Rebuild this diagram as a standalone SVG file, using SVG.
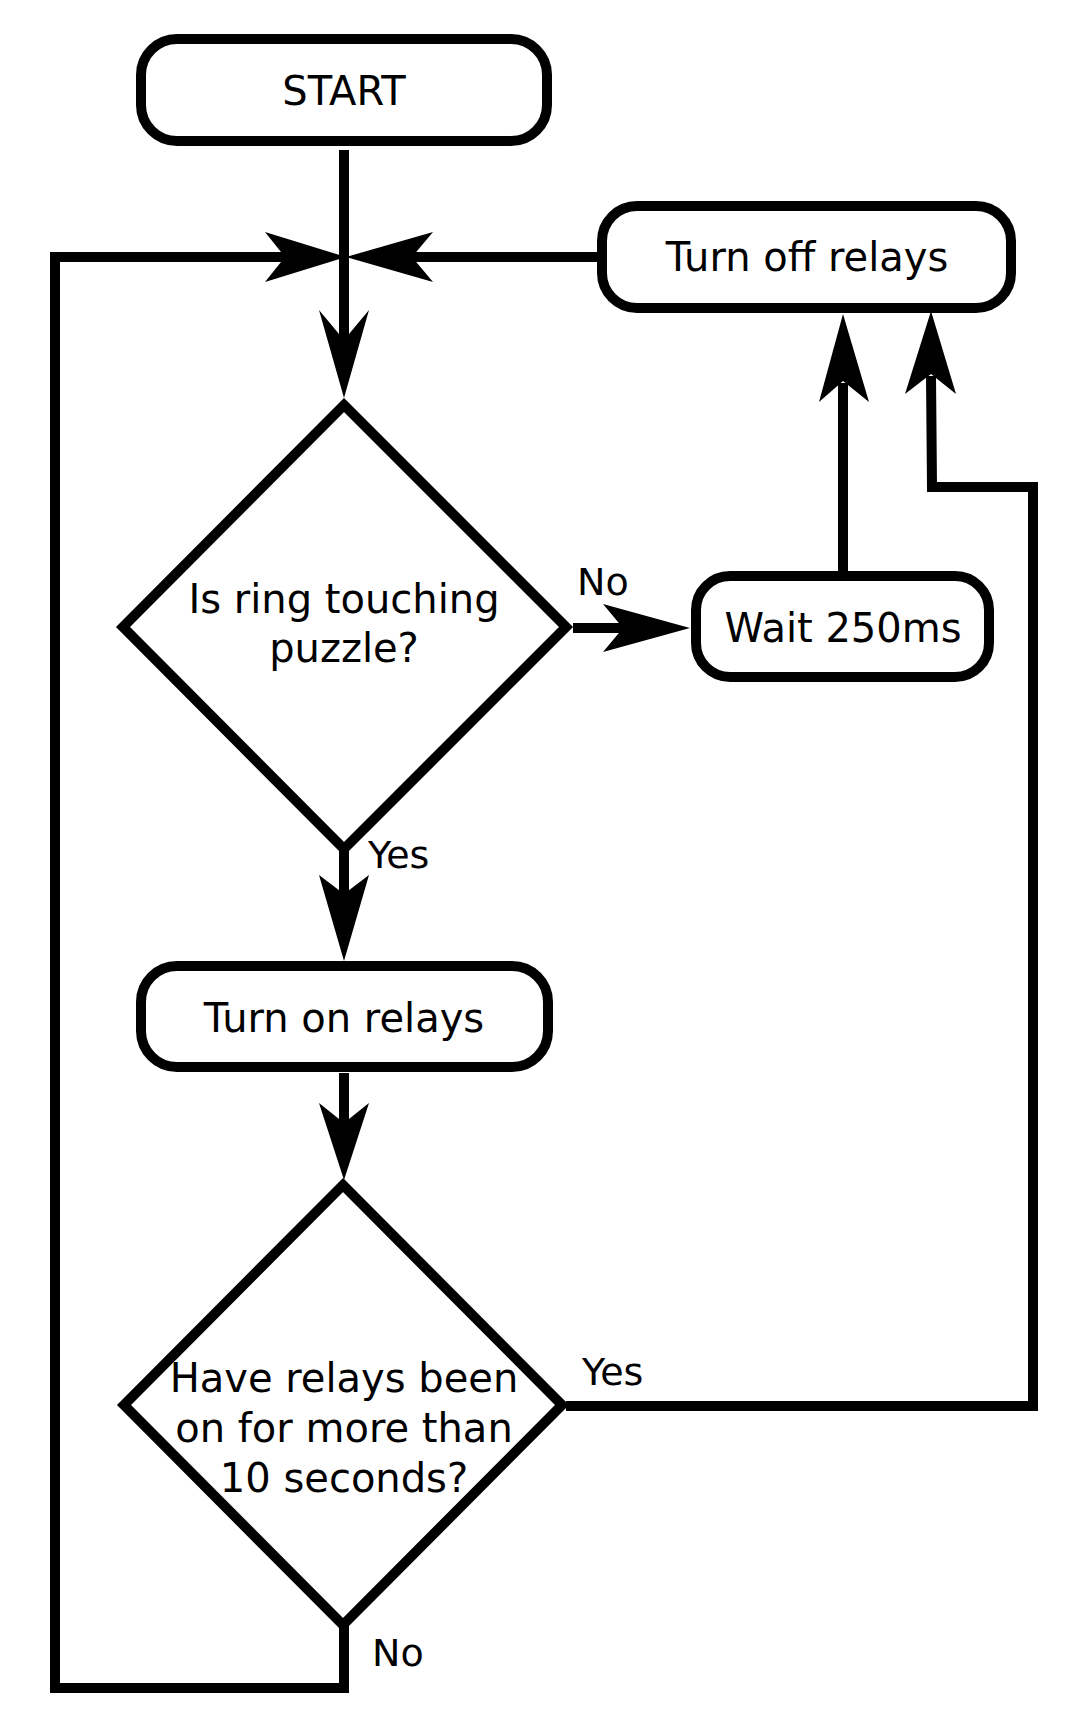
<svg xmlns="http://www.w3.org/2000/svg" width="1084" height="1729" viewBox="0 0 1084 1729">
<style>
.box{fill:#fff;stroke:#000;stroke-width:10}
.dia{fill:#fff;stroke:#000;stroke-width:10;stroke-linejoin:miter}
.ln{fill:none;stroke:#000;stroke-width:10;stroke-linejoin:miter;stroke-linecap:butt}
.head{fill:#000;stroke:none}
.t{font-family:"DejaVu Sans","Liberation Sans",sans-serif;font-size:40px;fill:#000;text-anchor:middle}
.lbl{font-family:"DejaVu Sans","Liberation Sans",sans-serif;font-size:38px;fill:#000}
</style>
<rect width="1084" height="1729" fill="#fff"/>
<g id="connectors">
<path class="ln" d="M344,150 V342"/>
<path class="ln" d="M344,1625 V1688 H55 V257 H288"/>
<path class="ln" d="M602,257 H410"/>
<path class="ln" d="M573,628 H625"/>
<path class="ln" d="M843,584 V383"/>
<path class="ln" d="M566,1406 H1033 V487 H932 L931,376"/>
<path class="ln" d="M344,846 V896"/>
<path class="ln" d="M344,1073 V1125"/>
<polygon class="head" points="346,257 265,232 285,257 265,282"/>
<polygon class="head" points="346,257 433,232 412,257 433,282"/>
<polygon class="head" points="344,398 319,310 344,340 369,310"/>
<polygon class="head" points="690,628 603,604 623,628 603,652"/>
<polygon class="head" points="843,314 819,402 843,381 869,402"/>
<polygon class="head" points="931,311 905,394 931,374 956,394"/>
<polygon class="head" points="344,961 319,875 344,894 369,875"/>
<polygon class="head" points="344,1180 319,1103 344,1123 369,1103"/>
</g>
<g id="start">
<rect class="box" x="141" y="39" width="406" height="102" rx="36" ry="36"/>
<text class="t" x="344" y="105">START</text>
</g>
<g id="turn-off">
<rect class="box" x="602" y="206" width="409" height="102" rx="35" ry="35"/>
<text class="t" x="807" y="271">Turn off relays</text>
</g>
<g id="decision-ring">
<polygon class="dia" points="344,405 566,627 344,849 123,627"/>
<text class="t" x="344" y="613">Is ring touching</text>
<text class="t" x="344" y="662">puzzle?</text>
</g>
<g id="wait">
<rect class="box" x="696" y="576" width="293" height="101" rx="34" ry="34"/>
<text class="t" x="843" y="642">Wait 250ms</text>
</g>
<g id="turn-on">
<rect class="box" x="141" y="966" width="407" height="101" rx="36" ry="36"/>
<text class="t" x="344" y="1032">Turn on relays</text>
</g>
<g id="decision-time">
<polygon class="dia" points="343,1185 562,1405 343,1625 124,1405"/>
<text class="t" x="344" y="1392">Have relays been</text>
<text class="t" x="344" y="1442">on for more than</text>
<text class="t" x="344" y="1492">10 seconds?</text>
</g>
<g id="labels">
<text class="lbl" x="577" y="595">No</text>
<text class="lbl" x="368" y="868">Yes</text>
<text class="lbl" x="582" y="1385">Yes</text>
<text class="lbl" x="372" y="1666">No</text>
</g>
</svg>
